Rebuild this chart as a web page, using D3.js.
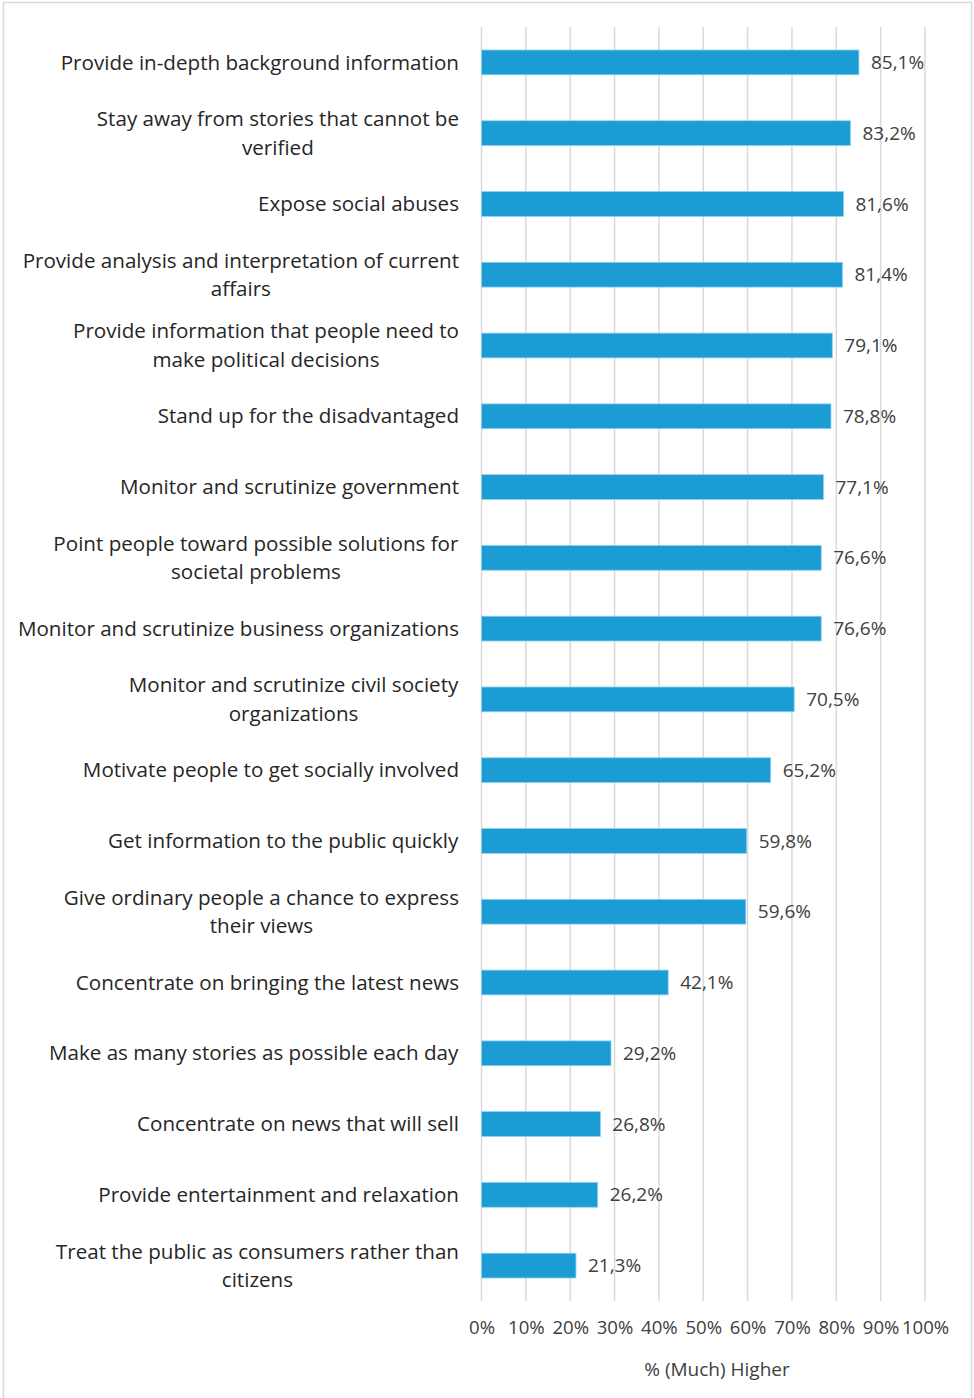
<!DOCTYPE html>
<html>
<head>
<meta charset="utf-8">
<script src="https://cdn.jsdelivr.net/npm/d3@7"></script>
<style>
  html, body { margin: 0; padding: 0; background: #fff; }
  svg { display: block; }
  text { font-family: "Open Sans", Lato, sans-serif; }
</style>
</head>
<body>
<div id="chart"></div>
<script>
// Roles of journalism, share answering "(much) higher"
const categories = [
  ["Provide in-depth background information"],
  ["Stay away from stories that cannot be", "verified"],
  ["Expose social abuses"],
  ["Provide analysis and interpretation of current", "affairs"],
  ["Provide information that people need to", "make political decisions"],
  ["Stand up for the disadvantaged"],
  ["Monitor and scrutinize government"],
  ["Point people toward possible solutions for", "societal problems"],
  ["Monitor and scrutinize business organizations"],
  ["Monitor and scrutinize civil society", "organizations"],
  ["Motivate people to get socially involved"],
  ["Get information to the public quickly"],
  ["Give ordinary people a chance to express", "their views"],
  ["Concentrate on bringing the latest news"],
  ["Make as many stories as possible each day"],
  ["Concentrate on news that will sell"],
  ["Provide entertainment and relaxation"],
  ["Treat the public as consumers rather than", "citizens"]
];
const values = [85.1, 83.2, 81.6, 81.4, 79.1, 78.8, 77.1, 76.6, 76.6, 70.5, 65.2, 59.8, 59.6, 42.1, 29.2, 26.8, 26.2, 21.3];
const xTicks = [0, 10, 20, 30, 40, 50, 60, 70, 80, 90, 100];
const axisTitle = "% (Much) Higher";

const W = 974, H = 1398;
const plot = { left: 481.5, right: 925, top: 27, bottom: 1301 };

const svg = d3.select("#chart").append("svg")
  .attr("width", W).attr("height", H);

// chart frame
svg.append("rect")
  .attr("x", 3.5).attr("y", 2.5)
  .attr("width", 968).attr("height", H + 10)
  .attr("fill", "#fff").attr("stroke", "#d9d9d9").attr("stroke-width", 1.5);

const x = d3.scaleLinear().domain([0, 100]).range([plot.left, plot.right]);
const y = d3.scaleBand().domain(d3.range(categories.length))
  .range([plot.top, plot.bottom]).paddingInner(0.65).paddingOuter(0.325);

// vertical gridlines
svg.append("g").selectAll("line").data(xTicks).join("line")
  .attr("x1", d => x(d)).attr("x2", d => x(d))
  .attr("y1", plot.top).attr("y2", plot.bottom)
  .attr("stroke", "#d9d9d9").attr("stroke-width", 1.5);

// bars
svg.append("g").selectAll("rect").data(values).join("rect")
  .attr("x", x(0))
  .attr("y", (d, i) => y(i))
  .attr("width", d => x(d) - x(0))
  .attr("height", y.bandwidth())
  .attr("fill", "#1b9cd5")
  .attr("stroke", "#8fd0ee").attr("stroke-width", 0.8);

// value labels
svg.append("g").selectAll("text").data(values).join("text")
  .attr("x", d => x(d) + 12)
  .attr("y", (d, i) => y(i) + y.bandwidth() / 2)
  .attr("dy", "0.35em")
  .attr("font-size", 19)
  .attr("fill", "#404040")
  .text(d => d.toFixed(1).replace(".", ",") + "%");

// category labels, centred lines in a right-aligned block
const lineH = 28.5;
const catG = svg.append("g");
categories.forEach((lines, i) => {
  const cy = y(i) + y.bandwidth() / 2;
  const t = catG.append("text")
    .attr("font-size", 20.6).attr("fill", "#262626")
    .attr("text-anchor", "middle");
  lines.forEach((ln, k) => {
    t.append("tspan").attr("x", 0)
      .attr("y", cy + (k - (lines.length - 1) / 2) * lineH)
      .attr("dy", "0.35em").text(ln);
  });
  const bb = t.node().getBBox();
  t.attr("transform", `translate(${459 - bb.x - bb.width},0)`);
});

// x axis tick labels
const xAxis = d3.axisBottom(x).tickValues(xTicks).tickSize(0).tickPadding(0)
  .tickFormat(d => d + "%");
const ax = svg.append("g").attr("transform", `translate(0,${plot.bottom + 20})`).call(xAxis);
ax.select(".domain").remove();
ax.selectAll("text").attr("font-size", 18.6).attr("fill", "#404040")
  .style("font-family", '"Open Sans", Lato, sans-serif');

// axis title
svg.append("text")
  .attr("x", 717).attr("y", 1369).attr("dy", "0.35em")
  .attr("text-anchor", "middle")
  .attr("font-size", 19).attr("fill", "#404040")
  .text(axisTitle);
</script>
</body>
</html>
